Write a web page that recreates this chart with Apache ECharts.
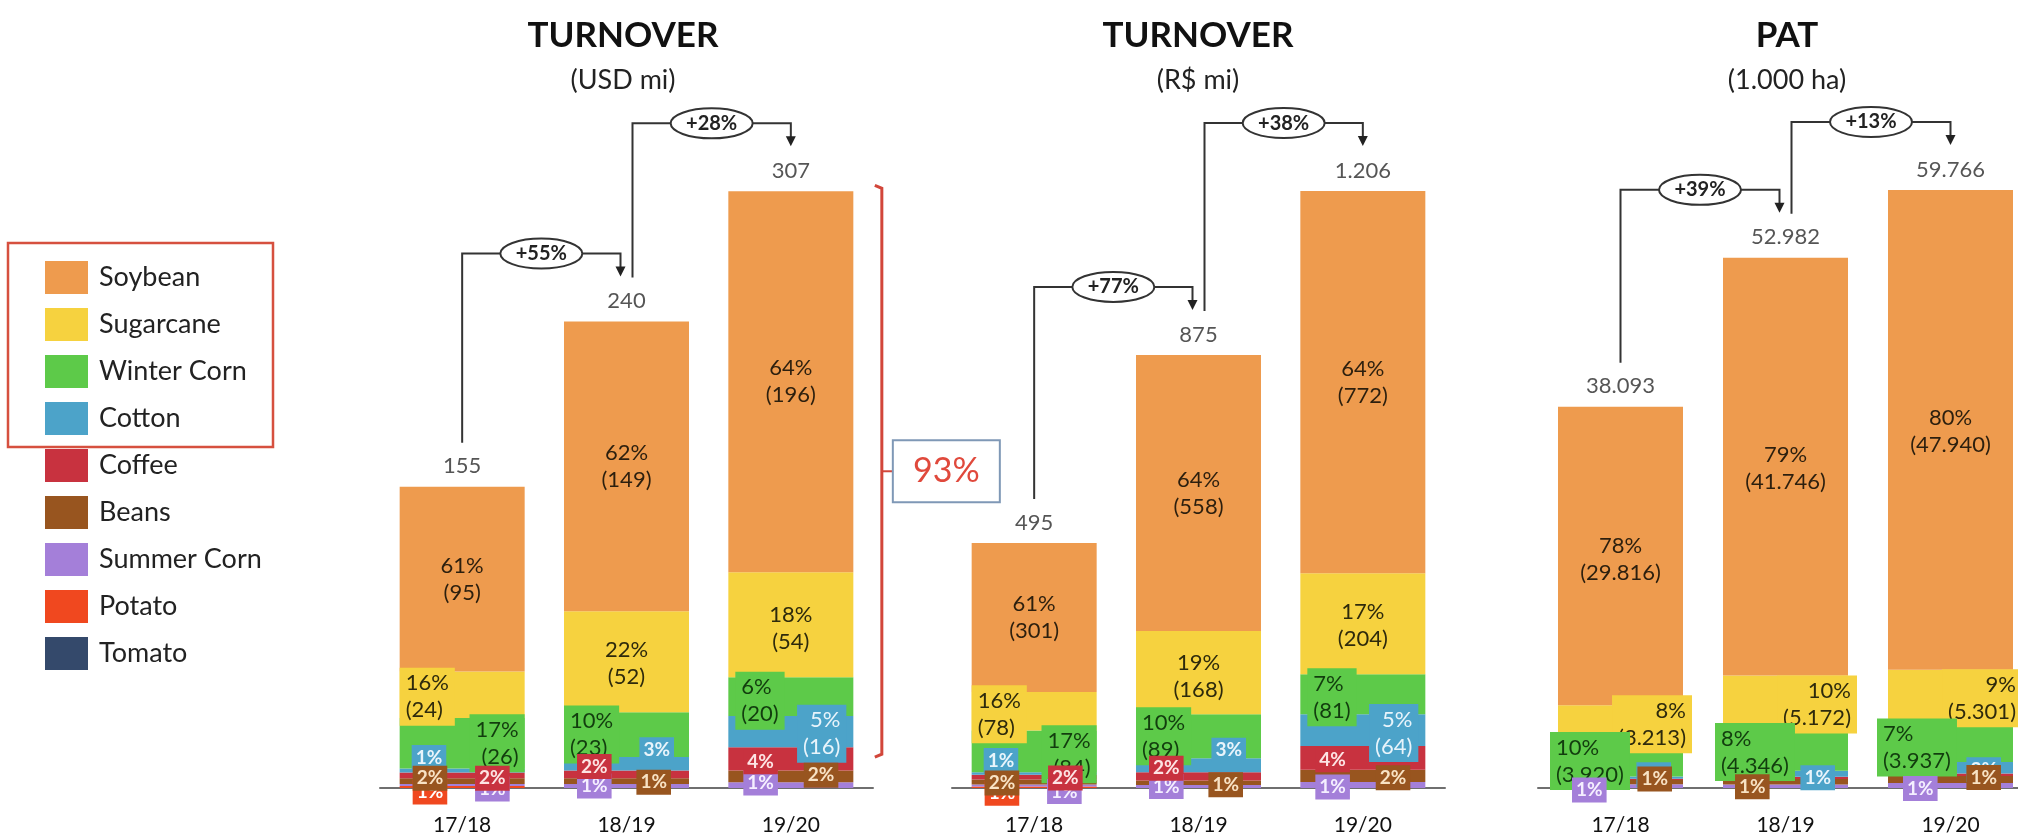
<!DOCTYPE html>
<html>
<head>
<meta charset="utf-8">
<title>Turnover and PAT by crop</title>
<script src="https://cdn.jsdelivr.net/npm/echarts@6/dist/echarts.min.js"></script>
<style>
  html, body { margin: 0; padding: 0; background: #fff; }
  #chart { width: 2018px; height: 840px; }
</style>
</head>
<body>
<div id="chart"></div>
<script>
// ---- data ----
const categories = ['17/18', '18/19', '19/20'];
const crops = ['Soybean', 'Sugarcane', 'Winter Corn', 'Cotton', 'Coffee', 'Beans', 'Summer Corn', 'Potato', 'Tomato'];

// turnover, USD mi (rows follow crops)
const usdValues = [
  [95, 149, 196],
  [24, 52, 54],
  [26, 23, 20],
  [2, 7, 16],
  [3, 4, 12],
  [3, 3, 6],
  [1, 2, 3],
  [1, 0, 0],
  [0, 0, 0]
];
const usdShares = [
  ['61%', '62%', '64%'],
  ['16%', '22%', '18%'],
  ['17%', '10%', '6%'],
  ['1%', '3%', '5%'],
  ['2%', '2%', '4%'],
  ['2%', '1%', '2%'],
  ['1%', '1%', '1%'],
  ['1%', '', ''],
  ['', '', '']
];

// turnover, R$ mi
const brlValues = [
  [301, 558, 772],
  [78, 168, 204],
  [84, 89, 81],
  [5, 28, 64],
  [10, 17, 48],
  [10, 9, 25],
  [4, 6, 12],
  [3, 0, 0],
  [0, 0, 0]
];
const brlShares = [
  ['61%', '64%', '64%'],
  ['16%', '19%', '17%'],
  ['17%', '10%', '7%'],
  ['1%', '3%', '5%'],
  ['2%', '2%', '4%'],
  ['2%', '1%', '2%'],
  ['1%', '1%', '1%'],
  ['1%', '', ''],
  ['', '', '']
];

// PAT, 1.000 ha
const areaValues = [
  [29816, 41746, 47940],
  [3213, 5172, 5301],
  [3920, 4346, 3937],
  [230, 600, 1150],
  [114, 208, 238],
  [420, 560, 700],
  [380, 350, 500],
  [0, 0, 0],
  [0, 0, 0]
];
const areaShares = [
  ['78%', '79%', '80%'],
  ['8%', '10%', '9%'],
  ['10%', '8%', '7%'],
  ['1%', '1%', '2%'],
  ['', '', ''],
  ['1%', '1%', '1%'],
  ['1%', '', '1%'],
  ['', '', ''],
  ['', '', '']
];

// ---- styling ----
const cropColors = ['#EE9B4E', '#F6D23F', '#5DCA49', '#4CA3C9', '#C8323F', '#98551F', '#A47FD9', '#F0481F', '#34496B'];
const labelColors = ['#2c1f0e', '#2e2a0c', '#123d0e', '#e8f4fb', '#fde4e4', '#f8e2c4', '#f5efff', '#ffffff', '#ffffff'];
const labelZ = [3, 4, 5, 6, 8, 9, 7, 6.5, 6];
const BAR_W = 125;

// label placement: [C|L|R (with value) or l|r (share only), distance from bar side, dy]
const usdLayout = [
  [['C', 0, 0], ['C', 0, 0], ['C', 0, 0]],
  [['L', 0, 2], ['C', 0, 2], ['C', 0, 4]],
  [['R', 0, 0], ['L', 0, 0], ['L', 7, 4]],
  [['l', 12, -13], ['r', 15, -14], ['R', 7, 2]],
  [['r', 15, 3], ['l', 13, -8], ['l', 15, 3]],
  [['l', 13, -3], ['r', 18, 1], ['r', 15, -1]],
  [['r', 15, 4], ['l', 13, 0], ['l', 15, -2]],
  [['l', 13, 5], null, null],
  [null, null, null]
];
const brlLayout = [
  [['C', 0, 0], ['C', 0, 0], ['C', 0, 0]],
  [['L', 0, 3], ['C', 0, 4], ['C', 0, 2]],
  [['R', 0, 3], ['L', 0, 0], ['L', 7, 3]],
  [['l', 12, -13], ['r', 15, -15], ['R', 7, 3]],
  [['r', 14, 1], ['l', 13, -8], ['l', 15, 2]],
  [['l', 13, 1], ['r', 18, 2], ['r', 15, 2]],
  [['r', 15, 6], ['l', 13, 0], ['l', 15, 2]],
  [['l', 13, 6], null, null],
  [null, null, null]
];
const areaLayout = [
  [['C', 0, 3], ['C', 0, 2], ['C', 0, 2]],
  [['R', -9, 3], ['R', -9, 3], ['R', -9, 2]],
  [['L', -8, 4], ['L', -8, 3], ['L', -11, 5]],
  [['r', 12, -3], ['r', 13, 4], ['r', 12, 2]],
  [null, null, null],
  [['r', 11, -3], ['l', 12, 5], ['r', 12, -2]],
  [['l', 14, 4], null, ['l', 15, 3]],
  [null, null, null],
  [null, null, null]
];

const panels = [
  { title: 'TURNOVER', sub: '(USD mi)', values: usdValues, shares: usdShares, layout: usdLayout, max: 354, left: 380, width: 493, titleX: 618 },
  { title: 'TURNOVER', sub: '(R$ mi)', values: brlValues, shares: brlShares, layout: brlLayout, max: 1390, left: 952, width: 493, titleX: 1193 },
  { title: 'PAT', sub: '(1.000 ha)', values: areaValues, shares: areaShares, layout: areaLayout, max: 68760, left: 1538, width: 495, titleX: 1782 }
];

const fmt = n => String(n).replace(/\B(?=(\d{3})+(?!\d))/g, '.');
const totalsOf = values => categories.map((_, i) => values.reduce((s, row) => s + row[i], 0));
const panelTotals = panels.map(p => totalsOf(p.values));

// stacked segments [category index, base, top, crop index], bottom crop first
function segmentsOf(values) {
  const segs = [];
  categories.forEach((_, i) => {
    let cum = 0;
    for (let k = crops.length - 1; k >= 0; k--) {
      const v = values[k][i];
      segs.push([i, cum, cum + v, k]);
      cum += v;
    }
  });
  return segs;
}

function labelItem(p, seg, api) {
  const [i, base, top, k] = seg;
  const spec = p.layout[k][i];
  const share = p.shares[k][i];
  if (!spec || !share || top === base) return null;
  const code = spec[0];
  const withValue = code === 'C' || code === 'L' || code === 'R';
  const p0 = api.coord([i, base]);
  const p1 = api.coord([i, top]);
  const cx = p0[0];
  const cy = (p0[1] + p1[1]) / 2 + spec[2];
  const style = {
    text: withValue ? share + '\n(' + fmt(top - base) + ')' : share,
    fill: labelColors[k],
    fontFamily: 'Lato',
    fontSize: withValue ? 22 : 19,
    fontWeight: withValue ? 'normal' : 'bold',
    lineHeight: withValue ? 27 : 21,
    verticalAlign: 'middle'
  };
  let x = cx;
  if (code === 'C') {
    style.align = 'center';
  } else {
    const left = code === 'L' || code === 'l';
    x = left ? cx - BAR_W / 2 + spec[1] : cx + BAR_W / 2 - spec[1];
    style.align = left ? 'left' : 'right';
    style.backgroundColor = cropColors[k];
    style.padding = withValue ? [2, 6] : [2, 4];
  }
  return { type: 'text', x: x, y: cy, z2: labelZ[k] * 10, style: style };
}

const series = [];
panels.forEach((p, g) => {
  for (let k = crops.length - 1; k >= 0; k--) {
    series.push({
      type: 'bar', name: crops[k], stack: 'bars' + g,
      xAxisIndex: g, yAxisIndex: g, barWidth: BAR_W,
      itemStyle: { color: cropColors[k] }, z: 1, silent: true,
      data: p.values[k]
    });
  }
  const segs = segmentsOf(p.values);
  series.push({
    type: 'custom', xAxisIndex: g, yAxisIndex: g, z: 5, silent: true, clip: false,
    encode: { x: 0, y: [1, 2] },
    data: segs,
    renderItem: (params, api) => labelItem(p, segs[params.dataIndex], api)
  });
  series.push({
    type: 'scatter', xAxisIndex: g, yAxisIndex: g, symbolSize: 1, silent: true, z: 10,
    itemStyle: { color: 'rgba(0,0,0,0)' },
    label: { show: true, position: 'top', distance: 9, fontSize: 22, fontFamily: 'Lato', color: '#2a2a2a',
      formatter: prm => fmt(prm.value[1]) },
    data: panelTotals[g].map((t, i) => [categories[i], t])
  });
});

const chart = echarts.init(document.getElementById('chart'));
chart.setOption({
  animation: false,
  backgroundColor: '#fff',
  textStyle: { fontFamily: 'Lato' },
  title: panels.map(p => ({
    text: p.title, subtext: p.sub, left: p.titleX, top: 13, textAlign: 'center', itemGap: 14,
    textStyle: { fontSize: 35, fontWeight: 'bold', color: '#111', fontFamily: 'Lato' },
    subtextStyle: { fontSize: 27, color: '#222', fontFamily: 'Lato' }
  })),
  legend: {
    data: crops, orient: 'vertical', left: 40, top: 256,
    itemWidth: 43, itemHeight: 33, itemGap: 14, icon: 'rect', selectedMode: false,
    textStyle: { fontSize: 27, color: '#222', fontFamily: 'Lato', padding: [0, 0, 0, 6] }
  },
  grid: panels.map(p => ({ left: p.left, width: p.width, top: 100, bottom: 52, outerBoundsMode: 'none' })),
  xAxis: panels.map((p, g) => ({
    type: 'category', gridIndex: g, data: categories,
    axisTick: { show: false },
    axisLine: { lineStyle: { color: '#6f6f6f', width: 2 } },
    axisLabel: { interval: 0, fontSize: 21, color: '#111', fontFamily: 'Lato', margin: 27 }
  })),
  yAxis: panels.map((p, g) => ({ type: 'value', gridIndex: g, min: 0, max: p.max, show: false })),
  series: series
});

// ---- annotations from the data ----
function connector(g, i, vxShift, axShift) {
  const t = panelTotals[g];
  const a = chart.convertToPixel({ gridIndex: g }, [categories[i], t[i]]);
  const b = chart.convertToPixel({ gridIndex: g }, [categories[i + 1], t[i + 1]]);
  const vx = a[0] + vxShift, ax = b[0] + axShift;
  const hy = b[1] - 68, bottom = a[1] - 44, tip = b[1] - 45;
  const mx = (vx + ax) / 2;
  const growth = '+' + Math.round((t[i + 1] / t[i] - 1) * 100) + '%';
  return [
    { type: 'polyline', z: 20, shape: { points: [[vx, bottom], [vx, hy], [ax, hy], [ax, tip - 9]] },
      style: { stroke: '#333', lineWidth: 2, fill: null } },
    { type: 'polygon', z: 20, shape: { points: [[ax - 5, tip - 10], [ax + 5, tip - 10], [ax, tip]] },
      style: { fill: '#222' } },
    { type: 'ellipse', z: 21, shape: { cx: mx, cy: hy, rx: 41, ry: 15 },
      style: { fill: '#fff', stroke: '#333', lineWidth: 2 } },
    { type: 'text', z: 22, x: mx, y: hy,
      style: { text: growth, align: 'center', verticalAlign: 'middle', font: 'bold 20px Lato', fill: '#222' } }
  ];
}

const graphics = [];
panels.forEach((p, g) => {
  graphics.push(...connector(g, 0, 0, -6));
  graphics.push(...connector(g, 1, 6, 0));
});

// bracket on the USD 19/20 bar: soybean + sugarcane + winter corn + cotton
const usdLast = panelTotals[0][2];
const lowerSum = usdValues.slice(4).reduce((s, row) => s + row[2], 0);
const upperShare = Math.round((usdLast - lowerSum) / usdLast * 100) + '%';
const topPt = chart.convertToPixel({ gridIndex: 0 }, [categories[2], usdLast]);
const lowPt = chart.convertToPixel({ gridIndex: 0 }, [categories[2], lowerSum]);
const bx = topPt[0] + 91, bTop = topPt[1] - 6, bBot = lowPt[1] + 10, bMid = (bTop + bBot) / 2;
graphics.push(
  { type: 'polyline', z: 20, shape: { points: [[bx - 7, bTop], [bx, bTop + 3], [bx, bBot - 3], [bx - 7, bBot]] },
    style: { stroke: '#D2463A', lineWidth: 3, fill: null } },
  { type: 'line', z: 20, shape: { x1: bx, y1: bMid, x2: bx + 11, y2: bMid }, style: { stroke: '#D2463A', lineWidth: 2 } },
  { type: 'rect', z: 20, shape: { x: bx + 11, y: bMid - 31, width: 107, height: 62 },
    style: { fill: '#fff', stroke: '#7f98b6', lineWidth: 2 } },
  { type: 'text', z: 21, x: bx + 11 + 53.5, y: bMid,
    style: { text: upperShare, align: 'center', verticalAlign: 'middle', font: '34px Lato', fill: '#E0493C' } },
  // frame round the first four legend entries
  { type: 'rect', z: 20, shape: { x: 8, y: 243, width: 265, height: 204 },
    style: { fill: null, stroke: '#D6503F', lineWidth: 2.5 } }
);

chart.setOption({ graphic: graphics });
</script>
</body>
</html>
